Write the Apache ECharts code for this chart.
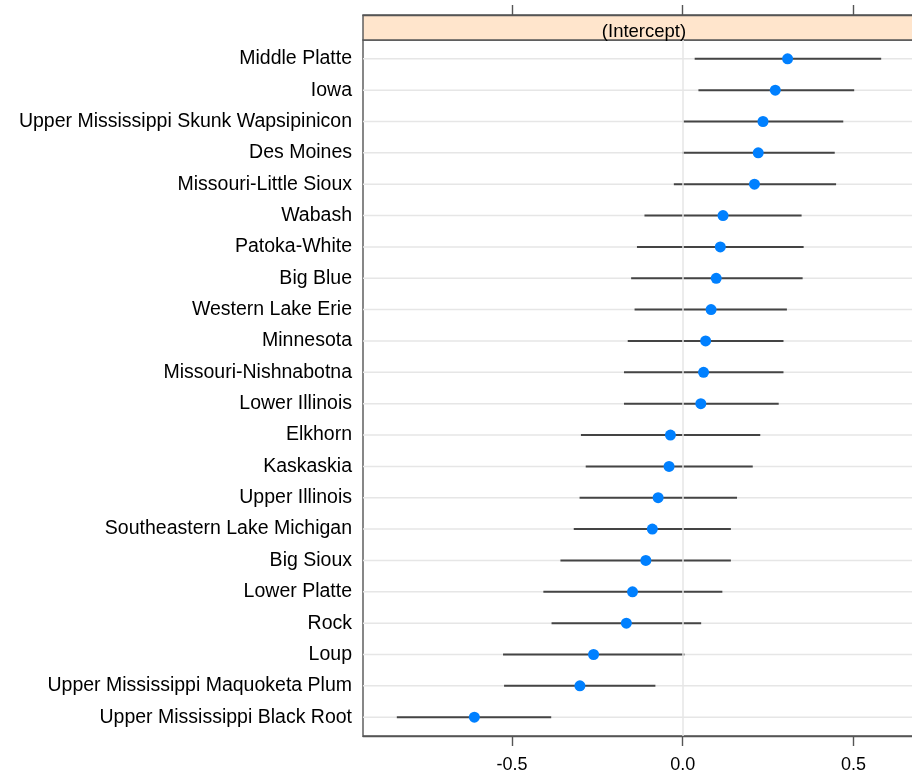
<!DOCTYPE html>
<html>
<head>
<meta charset="utf-8">
<script src="https://cdn.jsdelivr.net/npm/echarts@6/dist/echarts.min.js"></script>
<style>
html,body{margin:0;padding:0;background:#fff;overflow:hidden;}
#main{width:930px;height:774px;}
</style>
</head>
<body>
<div id="main"></div>
<script>
// ---- data ----
const categories = [
  "Middle Platte","Iowa","Upper Mississippi Skunk Wapsipinicon","Des Moines",
  "Missouri-Little Sioux","Wabash","Patoka-White","Big Blue","Western Lake Erie",
  "Minnesota","Missouri-Nishnabotna","Lower Illinois","Elkhorn","Kaskaskia",
  "Upper Illinois","Southeastern Lake Michigan","Big Sioux","Lower Platte","Rock",
  "Loup","Upper Mississippi Maquoketa Plum","Upper Mississippi Black Root"
];
const estimates = [0.307,0.271,0.235,0.221,0.210,0.118,0.110,0.098,0.083,0.067,0.061,0.053,
  -0.036,-0.040,-0.072,-0.089,-0.108,-0.147,-0.165,-0.261,-0.301,-0.610];
const lower = [0.035,0.046,0.002,-0.001,-0.026,-0.112,-0.134,-0.151,-0.141,-0.161,-0.172,-0.172,
  -0.298,-0.284,-0.302,-0.319,-0.358,-0.408,-0.384,-0.526,-0.523,-0.837];
const upper = [0.581,0.502,0.470,0.445,0.449,0.348,0.354,0.351,0.305,0.295,0.295,0.281,
  0.227,0.205,0.159,0.141,0.141,0.116,0.054,0.005,-0.080,-0.385];
const xTicks = [-0.5, 0, 0.5];
const stripTitle = "(Intercept)";

// ---- chart ----
const xMin = -0.936, xMax = 0.68;
const rows = categories.map((c, i) => i + 1);
const font = "'Liberation Sans', Arial, sans-serif";

const chart = echarts.init(document.getElementById('main'));
chart.setOption({
  animation: false,
  backgroundColor: '#ffffff',
  title: {
    text: stripTitle,
    left: 639, top: 17, textAlign: 'center',
    textStyle: {fontFamily: font, fontSize: 18.5, fontWeight: 'normal', color: '#000'}
  },
  grid: [
    {left: 363, top: 40, width: 552, height: 696, show: true, backgroundColor: '#fff',
     borderColor: '#555', borderWidth: 1.4},
    {left: 363, top: 15, width: 552, height: 25, show: true, backgroundColor: '#ffe5cc',
     borderColor: '#555', borderWidth: 1.4, z: 0}
  ],
  xAxis: [
    {type: 'value', gridIndex: 0, position: 'bottom', min: xMin, max: xMax,
     axisLine: {show: true, onZero: false, lineStyle: {color: '#555', width: 1.4}},
     axisTick: {show: true, inside: false, length: 10, customValues: xTicks,
                lineStyle: {color: '#555', width: 1.4}},
     axisLabel: {show: true, customValues: xTicks, margin: 20,
                 formatter: v => v.toFixed(1),
                 fontFamily: font, fontSize: 18, color: '#000'},
     splitLine: {show: false}},
    {type: 'value', gridIndex: 1, position: 'top', min: xMin, max: xMax,
     axisLine: {show: true, onZero: false, lineStyle: {color: '#555', width: 1.4}},
     axisTick: {show: true, inside: false, length: 10, customValues: xTicks,
                lineStyle: {color: '#555', width: 1.4}},
     axisLabel: {show: false},
     splitLine: {show: false}}
  ],
  yAxis: [
    {type: 'value', gridIndex: 0, min: 0.4, max: 22.6, inverse: true,
     axisLine: {show: false, onZero: false}, axisTick: {show: false}, splitLine: {show: false},
     axisLabel: {show: true, customValues: rows, margin: 11,
                 formatter: v => categories[Math.round(v) - 1],
                 fontFamily: font, fontSize: 19.5, color: '#000'}},
    {type: 'value', gridIndex: 1, min: 0, max: 1, show: false,
     axisLine: {onZero: false}}
  ],
  series: [
    {
      name: 'ref', type: 'custom', xAxisIndex: 0, yAxisIndex: 0, silent: true, z: 1,
      data: rows.map(r => [0, r]),
      encode: {x: 0, y: 1},
      renderItem: (params, api) => {
        const cs = params.coordSys;
        const y = api.coord([0, api.value(1)])[1];
        return {type: 'line', shape: {x1: cs.x, y1: y, x2: cs.x + cs.width, y2: y},
                style: {stroke: '#e6e6e6', lineWidth: 1.5}};
      },
      markLine: {
        silent: true, symbol: 'none', label: {show: false},
        lineStyle: {color: '#e6e6e6', type: 'solid', width: 1.5},
        data: [{xAxis: 0}]
      }
    },
    {
      name: 'ci', type: 'custom', xAxisIndex: 0, yAxisIndex: 0, silent: true, z: 2,
      data: rows.map((r, i) => [lower[i], upper[i], r]),
      encode: {x: [0, 1], y: 2},
      renderItem: (params, api) => {
        const p1 = api.coord([api.value(0), api.value(2)]);
        const p2 = api.coord([api.value(1), api.value(2)]);
        return {type: 'line', shape: {x1: p1[0], y1: p1[1], x2: p2[0], y2: p2[1]},
                style: {stroke: '#444', lineWidth: 2}};
      }
    },
    {
      name: 'est', type: 'scatter', xAxisIndex: 0, yAxisIndex: 0, z: 3,
      symbol: 'circle', symbolSize: 11,
      itemStyle: {color: '#0080ff', opacity: 1},
      data: estimates.map((v, i) => [v, rows[i]])
    }
  ]
});
</script>
</body>
</html>
